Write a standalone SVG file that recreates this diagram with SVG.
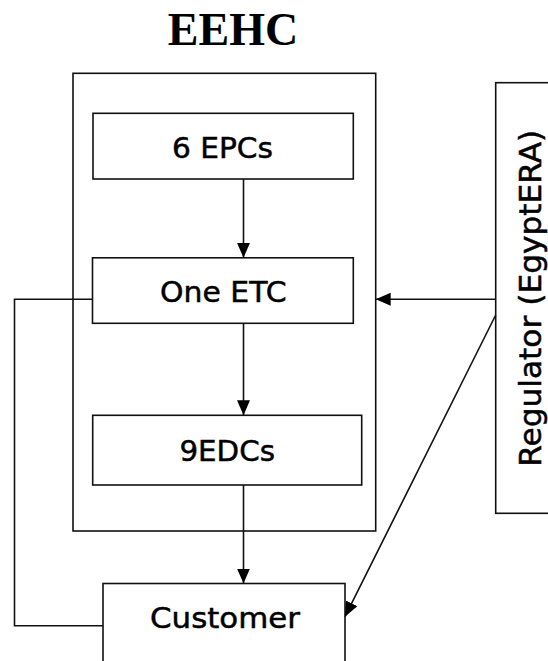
<svg xmlns="http://www.w3.org/2000/svg" width="548" height="661" viewBox="0 0 548 661">
  <style>
    .box { fill: #fff; stroke: #111; stroke-width: 1.6; }
    .lbl { font-family: "DejaVu Sans", Verdana, sans-serif; font-size: 29px; fill: #000; stroke: #000; stroke-width: 0.5; text-anchor: middle; }
    .title { font-family: "Liberation Serif", "Times New Roman", serif; font-weight: bold; font-size: 46px; fill: #000; text-anchor: middle; }
    .conn { fill: none; stroke: #111; stroke-width: 1.6; }
  </style>
  <defs>
    <marker id="arrow" markerUnits="userSpaceOnUse" markerWidth="16" markerHeight="14" refX="15" refY="6.5" orient="auto">
      <path d="M0,0 L15,6.5 L0,13 z" fill="#000"/>
    </marker>
  </defs>
  <rect width="548" height="661" fill="#fff"/>

  <text class="title" x="233" y="45">EEHC</text>

  <g id="eehc">
    <rect class="box" x="73" y="73.3" width="302.7" height="457.7"/>
  </g>
  <g id="epcs">
    <rect class="box" x="93" y="113.3" width="260.3" height="65.7"/>
    <text class="lbl" x="222.5" y="158.3" textLength="101" lengthAdjust="spacingAndGlyphs">6 EPCs</text>
  </g>
  <g id="etc">
    <rect class="box" x="92.5" y="257.8" width="260.8" height="65.5"/>
    <text class="lbl" x="223.3" y="302.3" textLength="126.5" lengthAdjust="spacingAndGlyphs">One ETC</text>
  </g>
  <g id="edcs">
    <rect class="box" x="92.7" y="415.3" width="269" height="69.7"/>
    <text class="lbl" x="227.2" y="460.7" textLength="95.5" lengthAdjust="spacingAndGlyphs">9EDCs</text>
  </g>
  <g id="customer">
    <rect class="box" x="103" y="583.5" width="242" height="100"/>
    <text class="lbl" x="225" y="628.3" textLength="150" lengthAdjust="spacingAndGlyphs">Customer</text>
  </g>
  <g id="regulator">
    <rect class="box" x="495.7" y="82.7" width="100" height="430.6"/>
    <text class="lbl" style="font-size:31px" transform="translate(540.5,298.3) rotate(-90)" x="0" y="0" textLength="337" lengthAdjust="spacingAndGlyphs">Regulator (EgyptERA)</text>
  </g>

  <g id="connectors">
    <line class="conn" x1="243.5" y1="179" x2="243.5" y2="257.8" marker-end="url(#arrow)"/>
    <line class="conn" x1="243.5" y1="323.3" x2="243.5" y2="415.3" marker-end="url(#arrow)"/>
    <line class="conn" x1="243.5" y1="485" x2="243.5" y2="583.5" marker-end="url(#arrow)"/>
    <line class="conn" x1="495.7" y1="299.3" x2="375.7" y2="299.3" marker-end="url(#arrow)"/>
    <line class="conn" x1="495.7" y1="315" x2="345" y2="616.7" marker-end="url(#arrow)"/>
    <polyline class="conn" points="92.5,299.3 14.5,299.3 14.5,625.7 103,625.7"/>
  </g>
</svg>
